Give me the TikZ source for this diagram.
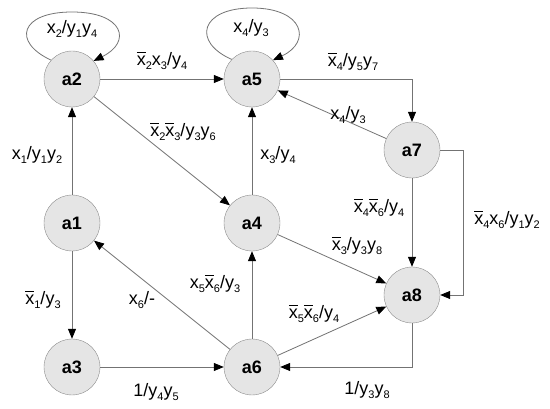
\documentclass[tikz,border=0pt]{standalone}
\usepackage{fontspec}
\setmainfont{Liberation Sans}
\usetikzlibrary{arrows.meta}

\newcommand{\idx}[1]{\raisebox{-4.5pt}{\fontsize{11}{11}\selectfont #1}}
\newcommand{\ix}[1]{x\idx{#1}}
\newcommand{\iy}[1]{y\idx{#1}}
\newcommand{\nx}[1]{\vbox{\hrule height 1.1pt\kern 2.8pt\hbox{x}}\idx{#1}}

\begin{document}
\begin{tikzpicture}[x=1pt, y=1pt,
  state/.style={circle, draw=black!45, fill=black!10, minimum size=56pt, inner sep=0pt,
    font=\fontsize{18}{18}\selectfont\bfseries},
  edge/.style={draw=black!55, line width=0.8pt, -{Triangle[length=10pt, width=8pt, color=black]}},
  lbl/.style={font=\fontsize{18}{20}\selectfont, inner sep=0pt}]

  \useasboundingbox (0,0) rectangle (550,-409);

  \node[state] (a2) at (72,-79) {a2};
  \node[state] (a5) at (252,-79) {a5};
  \node[state] (a7) at (412,-150) {a7};
  \node[state] (a1) at (72,-223) {a1};
  \node[state] (a4) at (252,-223) {a4};
  \node[state] (a8) at (412,-295) {a8};
  \node[state] (a3) at (72,-367) {a3};
  \node[state] (a6) at (252,-367) {a6};

  \draw[edge] (a2.138) .. controls (12,-42) and (20,-12) .. (72,-12)
    .. controls (124,-12) and (132,-42) .. (a2.40) node[lbl] at (72,-29) {\ix{2}/\iy{1}\iy{4}};
  \draw[edge] (a5.136) .. controls (192,-42) and (200,-8) .. (252,-8)
    .. controls (304,-8) and (312,-42) .. (a5.42) node[lbl] at (251,-28) {\ix{4}/\iy{3}};

  \draw[edge] (a2) -- (a5) node[lbl] at (162,-61) {\nx{2}\ix{3}/\iy{4}};
  \draw[edge] (a2) -- (a4) node[lbl] at (183,-132) {\nx{2}\nx{3}/\iy{3}\iy{6}};
  \draw[edge] (a1) -- (a2) node[lbl] at (37,-155) {\ix{1}/\iy{1}\iy{2}};
  \draw[edge] (a1) -- (a3) node[lbl] at (43,-300) {\nx{1}/\iy{3}};
  \draw[edge] (a4) -- (a5) node[lbl] at (278,-155) {\ix{3}/\iy{4}};
  \draw[edge] (a5) -| (a7) node[lbl] at (353,-62) {\nx{4}/\iy{5}\iy{7}};
  \draw[edge] (a7) -- (a5) node[lbl] at (348,-115) {\ix{4}/\iy{3}};
  \draw[edge] (a7) -- (a8) node[lbl] at (379,-208) {\nx{4}\nx{6}/\iy{4}};
  \draw[edge] (a7) -- ++(51,0) |- (a8) node[lbl] at (507,-220) {\nx{4}\ix{6}/\iy{1}\iy{2}};
  \draw[edge] (a4) -- (a8) node[lbl] at (357,-246) {\nx{3}/\iy{3}\iy{8}};
  \draw[edge] (a6) -- (a4) node[lbl] at (215,-284) {\ix{5}\nx{6}/\iy{3}};
  \draw[edge] (a6) -- (a8) node[lbl] at (314,-314) {\nx{5}\nx{6}/\iy{4}};
  \draw[edge] (a6) -- (a1) node[lbl] at (142,-300) {\ix{6}/-};
  \draw[edge] (a3) -- (a6) node[lbl] at (156,-392) {1/\iy{4}\iy{5}};
  \draw[edge] (a8) |- (a6) node[lbl] at (367,-390) {1/\iy{3}\iy{8}};

\end{tikzpicture}
\end{document}
